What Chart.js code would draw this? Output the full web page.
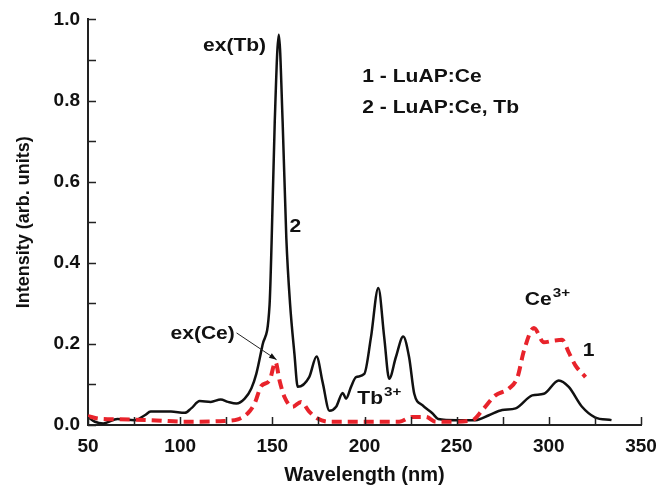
<!DOCTYPE html>
<html>
<head>
<meta charset="utf-8">
<script src="https://cdn.jsdelivr.net/npm/chart.js@4"></script>
<style>
  body { margin: 0; background: #fff; }
</style>
</head>
<body>
<canvas id="spectra" width="672" height="489"></canvas>
<script>
// curve 2 - LuAP:Ce, Tb (solid black)
const tbWave = [50, 53.8, 58.3, 66, 75.4, 80.8, 84, 95, 102.5, 106, 110.6, 116.6, 122, 126, 130.5, 135, 138.6, 141.3, 144.7, 148.5, 149.6, 151.3, 153.5, 155.6, 157.6, 159.6, 162, 163.8, 170, 174, 177.3, 181, 184.6, 188.2, 190, 192.7, 195.4, 199.9, 203.5, 207.5, 210.7, 213.4, 217, 221, 224.2, 227, 231.4, 236.8, 240, 250, 260.3, 267.5, 274.7, 282, 291, 297.3, 305.4, 310.8, 318, 325, 334];
const tbInt = [0.02, 0.008, 0.004, 0.015, 0.012, 0.024, 0.033, 0.033, 0.03, 0.041, 0.059, 0.057, 0.063, 0.057, 0.053, 0.065, 0.09, 0.126, 0.198, 0.296, 0.45, 0.746, 0.962, 0.746, 0.46, 0.3, 0.175, 0.094, 0.118, 0.169, 0.105, 0.035, 0.045, 0.079, 0.065, 0.094, 0.118, 0.126, 0.216, 0.338, 0.216, 0.114, 0.167, 0.218, 0.167, 0.077, 0.049, 0.029, 0.015, 0.012, 0.012, 0.024, 0.037, 0.041, 0.073, 0.077, 0.11, 0.094, 0.045, 0.019, 0.012];

// curve 1 - LuAP:Ce (red dashed)
const ceWave = [50, 55.6, 66.4, 84.5, 102.5, 124, 131.3, 136.7, 140.4, 144, 148.5, 151.7, 153.9, 156.6, 161, 165.6, 170, 174.6, 181, 200, 218.8, 226, 233.3, 238.7, 245.9, 258.5, 264, 271, 278.4, 283, 286.5, 291.9, 297.3, 302.7, 307.2, 310.8, 314.4, 319.9];
const ceInt = [0.022, 0.016, 0.014, 0.012, 0.008, 0.01, 0.014, 0.029, 0.053, 0.096, 0.11, 0.155, 0.11, 0.069, 0.045, 0.057, 0.033, 0.016, 0.008, 0.008, 0.008, 0.02, 0.02, 0.008, 0.008, 0.012, 0.037, 0.073, 0.09, 0.118, 0.183, 0.239, 0.204, 0.208, 0.21, 0.179, 0.147, 0.118];

const FONT = "'Liberation Sans', Arial, sans-serif";
const STRETCH = 1.17; // the printed labels are a bit wider than plain Arial

function pts(xs, ys) {
    return xs.map((x, i) => ({ x: x, y: ys[i] }));
}

// inward tick marks + text labels
const extras = {
    id: 'extras',
    afterDatasetsDraw(chart) {
        const ctx = chart.ctx;
        const xs = chart.scales.x, ys = chart.scales.y;
        const area = chart.chartArea;
        ctx.save();
        ctx.strokeStyle = '#222';
        ctx.lineWidth = 1.5;
        ctx.beginPath();
        xs.ticks.forEach(t => {
            const px = Math.round(xs.getPixelForValue(t.value)) + 0.5;
            ctx.moveTo(px, area.bottom);
            ctx.lineTo(px, area.bottom - 8);
        });
        ys.ticks.forEach(t => {
            const py = Math.round(ys.getPixelForValue(t.value)) + 0.5;
            ctx.moveTo(area.left, py);
            ctx.lineTo(area.left + 8, py);
        });
        ctx.stroke();

        const X = v => xs.getPixelForValue(v);
        const Y = v => ys.getPixelForValue(v);
        ctx.fillStyle = '#111';
        ctx.textBaseline = 'middle';

        function text(str, x, y, size, align) {
            ctx.save();
            ctx.translate(x, y);
            ctx.scale(STRETCH, 1);
            ctx.font = 'bold ' + size + 'px ' + FONT;
            ctx.textAlign = align;
            ctx.fillText(str, 0, 0);
            const w = ctx.measureText(str).width * STRETCH;
            ctx.restore();
            return w;
        }

        text('ex(Tb)', X(129.5), Y(0.934), 18, 'center');
        text('2', X(162.5), Y(0.489), 18, 'center');
        text('ex(Ce)', X(112.2), Y(0.225), 18, 'center');
        text('1', X(321.6), Y(0.183), 18, 'center');
        text('1 - LuAP:Ce', X(198.8), Y(0.858), 18, 'left');
        text('2 - LuAP:Ce, Tb', X(198.8), Y(0.782), 18, 'left');

        // superscript labels
        let w = text('Ce', X(287), Y(0.309), 18, 'left');
        text('3+', X(287) + w + 1, Y(0.309) - 6, 13, 'left');
        w = text('Tb', X(196.1), Y(0.065), 18, 'left');
        text('3+', X(196.1) + w + 1, Y(0.065) - 6, 13, 'left');

        // arrow from ex(Ce) to red peak
        const x1 = X(130.6), y1 = Y(0.227), x2 = X(152.3), y2 = Y(0.161);
        ctx.lineWidth = 1;
        ctx.beginPath();
        ctx.moveTo(x1, y1);
        ctx.lineTo(x2, y2);
        ctx.stroke();
        const a = Math.atan2(y2 - y1, x2 - x1);
        ctx.beginPath();
        ctx.moveTo(x2, y2);
        ctx.lineTo(x2 - 8 * Math.cos(a - 0.35), y2 - 8 * Math.sin(a - 0.35));
        ctx.lineTo(x2 - 8 * Math.cos(a + 0.35), y2 - 8 * Math.sin(a + 0.35));
        ctx.closePath();
        ctx.fill();
        ctx.restore();
    }
};

new Chart(document.getElementById('spectra'), {
    type: 'line',
    data: {
        datasets: [
            {
                label: '1 - LuAP:Ce',
                data: pts(ceWave, ceInt),
                borderColor: '#e8232b',
                borderWidth: 4,
                borderDash: [10, 6],
                pointRadius: 0,
                cubicInterpolationMode: 'monotone',
                fill: false
            },
            {
                label: '2 - LuAP:Ce, Tb',
                data: pts(tbWave, tbInt),
                borderColor: '#111',
                borderWidth: 2.5,
                pointRadius: 0,
                cubicInterpolationMode: 'monotone',
                fill: false
            }
        ]
    },
    options: {
        responsive: false,
        animation: false,
        layout: { padding: { left: 0, right: 31, top: 16, bottom: 0 } },
        plugins: {
            legend: { display: false },
            tooltip: { enabled: false }
        },
        scales: {
            x: {
                type: 'linear',
                min: 50,
                max: 350,
                grid: { display: false, drawTicks: false },
                border: { display: true, color: '#222', width: 2 },
                ticks: {
                    stepSize: 25,
                    autoSkip: false,
                    maxRotation: 0,
                    padding: 10,
                    color: '#111',
                    font: { family: FONT, size: 19, weight: 'bold' },
                    callback: v => (v % 50 === 0 ? v : '')
                },
                title: {
                    display: true,
                    text: 'Wavelength (nm)',
                    color: '#111',
                    font: { family: FONT, size: 20, weight: 'bold' },
                    padding: { top: 0, bottom: 2 }
                },
                afterFit: s => { s.height = 64; }
            },
            y: {
                min: 0,
                max: 1.0,
                grid: { display: false, drawTicks: false },
                border: { display: true, color: '#222', width: 2 },
                ticks: {
                    stepSize: 0.1,
                    autoSkip: false,
                    padding: 8,
                    color: '#111',
                    font: { family: FONT, size: 19, weight: 'bold' },
                    callback: v => {
                        const r = Math.round(v * 10);
                        return r % 2 === 0 ? (r / 10).toFixed(1) : '';
                    }
                },
                title: {
                    display: true,
                    text: 'Intensity (arb. units)',
                    color: '#111',
                    font: { family: FONT, size: 18, weight: 'bold' },
                    padding: { top: 13, bottom: 0 }
                },
                afterFit: s => { s.width = 88; }
            }
        }
    },
    plugins: [extras]
});
</script>
</body>
</html>
